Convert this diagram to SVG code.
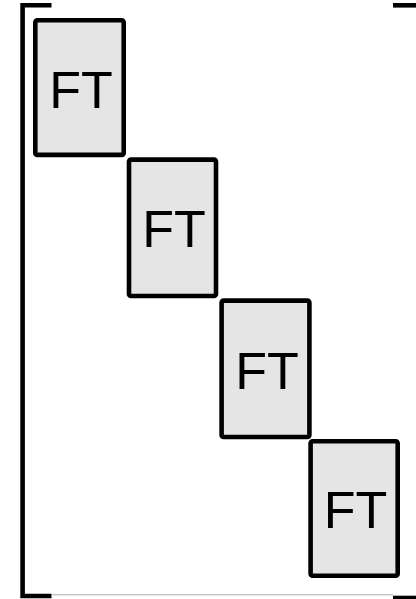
<svg xmlns="http://www.w3.org/2000/svg" width="416" height="599" viewBox="0 0 416 599">
<style>
.box{fill:#e5e5e5;stroke:#000;stroke-width:4.6}
.lbl{font-family:"Liberation Sans",Arial,sans-serif;font-size:52px;fill:#000;text-anchor:middle}
.br{fill:none;stroke:#000;stroke-width:4.6}
</style>
<rect width="416" height="599" fill="#fff"/>
<g id="brackets">
<path class="br" d="M51.5,5.3 H22.6 V596 H51.5"/>
<path class="br" d="M393,5.3 H418"/>
<path class="br" d="M393,598 H418"/>
<line x1="51.5" y1="594.8" x2="393" y2="594.8" stroke="#aaa" stroke-width="1"/>
</g>
<g id="ft1"><rect class="box" x="35.3" y="20.3" width="88.4" height="134.6" rx="2"/><text class="lbl" x="81" y="107.5">FT</text></g>
<g id="ft2"><rect class="box" x="129" y="159.6" width="87" height="136.4" rx="2"/><text class="lbl" x="174" y="247.3">FT</text></g>
<g id="ft3"><rect class="box" x="221.6" y="300.6" width="87.8" height="136.4" rx="2"/><text class="lbl" x="267" y="388.5">FT</text></g>
<g id="ft4"><rect class="box" x="310.6" y="441.3" width="87.1" height="134.4" rx="2"/><text class="lbl" x="355.5" y="528">FT</text></g>
</svg>
